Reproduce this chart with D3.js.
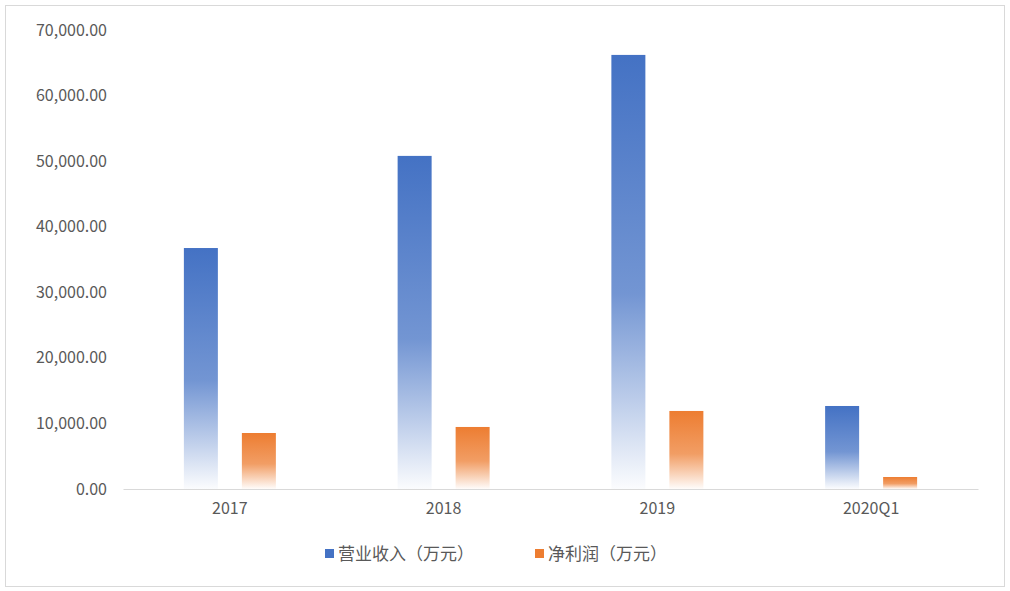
<!DOCTYPE html>
<html><head><meta charset="utf-8">
<script src="https://cdn.jsdelivr.net/npm/d3@7"></script>
<style>body{margin:0;background:#fff}text{font-family:"Noto Sans CJK SC","Noto Sans",sans-serif}</style>
</head><body><svg id="chart" width="1010" height="591"></svg>
<script>
var categories = ["2017", "2018", "2019", "2020Q1"];
var revenue = [36750, 50800, 66200, 12660];
var profit = [8540, 9460, 11900, 1830];
var seriesNames = ["营业收入（万元）", "净利润（万元）"];
var seriesColors = ["#4472C4", "#ED7D31"];
var yTicks = [0, 10000, 20000, 30000, 40000, 50000, 60000, 70000];

var svg = d3.select("#chart");
svg.append("rect").attr("x", 5.5).attr("y", 5.5).attr("width", 999).attr("height", 581)
    .attr("fill", "#fff").attr("stroke", "#d9d9d9");

var defs = svg.append("defs");
seriesColors.forEach(function (c, i) {
    var g = defs.append("linearGradient").attr("id", "grad" + i)
        .attr("x1", 0).attr("y1", 0).attr("x2", 0).attr("y2", 1);
    g.append("stop").attr("offset", "0").attr("stop-color", c).attr("stop-opacity", 1);
    g.append("stop").attr("offset", "0.55").attr("stop-color", c).attr("stop-opacity", 0.75);
    g.append("stop").attr("offset", "0.8").attr("stop-color", c).attr("stop-opacity", 0.35);
    g.append("stop").attr("offset", "1").attr("stop-color", c).attr("stop-opacity", 0.02);
});

var x = d3.scaleBand().domain(categories).range([123, 978]);
var y = d3.scaleLinear().domain([0, 70000]).range([489, 30]);
var fmt = d3.format(",.2f");

svg.append("g").attr("transform", "translate(0,489)")
    .call(d3.axisBottom(x).tickSize(0).tickPadding(14))
    .call(function (g) {
        g.select(".domain").attr("stroke", "#d9d9d9");
        g.selectAll("text").attr("font-size", 16).attr("fill", "#595959");
    });
svg.append("g").attr("transform", "translate(107,0)")
    .call(d3.axisLeft(y).tickValues(yTicks).tickFormat(fmt).tickSize(0).tickPadding(0))
    .call(function (g) {
        g.select(".domain").remove();
        g.selectAll("text").attr("font-size", 16).attr("fill", "#595959");
    });

var bw = 34, gap = 24;
[revenue, profit].forEach(function (vals, s) {
    svg.append("g").selectAll("rect").data(vals).enter().append("rect")
        .attr("x", function (d, i) { return x(categories[i]) + x.bandwidth() / 2 - bw - gap / 2 + s * (bw + gap); })
        .attr("y", function (d) { return y(d); })
        .attr("width", bw)
        .attr("height", function (d) { return y(0) - y(d); })
        .attr("fill", "url(#grad" + s + ")");
});

var legendX = [325, 535];
seriesNames.forEach(function (n, i) {
    svg.append("rect").attr("x", legendX[i]).attr("y", 549).attr("width", 9).attr("height", 9).attr("fill", seriesColors[i]);
    svg.append("text").attr("x", legendX[i] + 13).attr("y", 560).attr("font-size", 17).attr("fill", "#595959").text(n);
});
</script></body></html>
